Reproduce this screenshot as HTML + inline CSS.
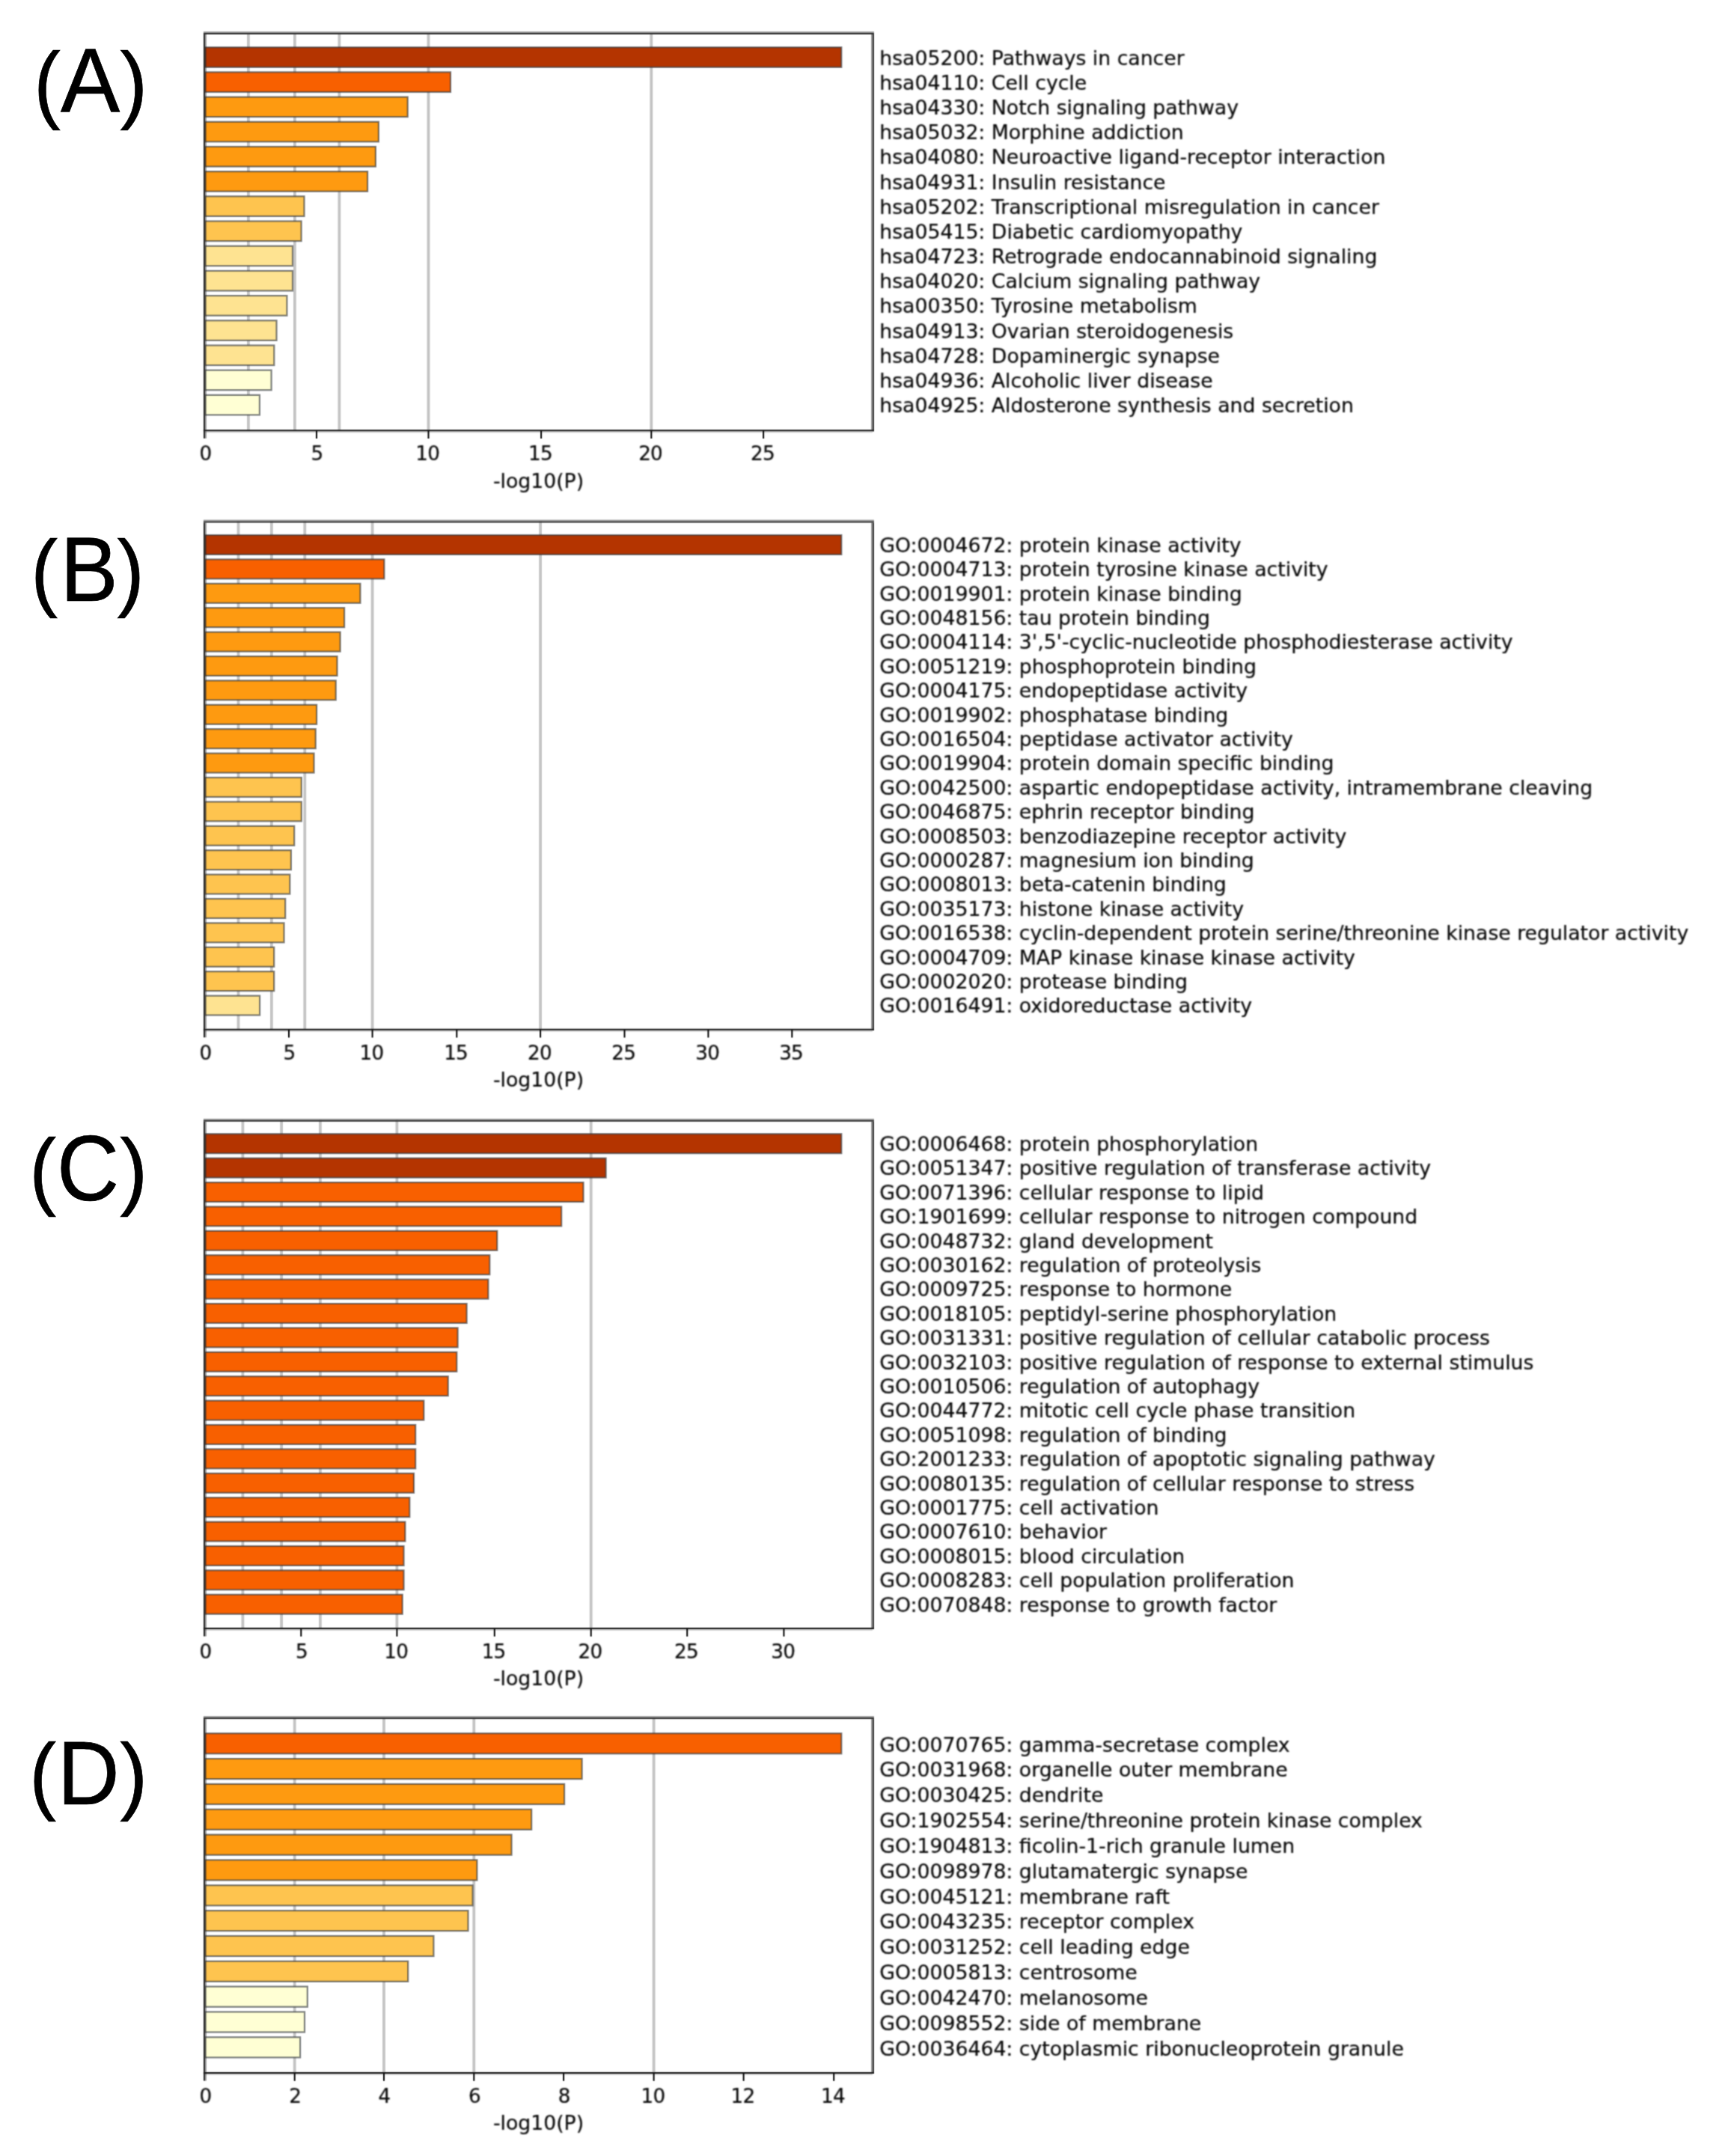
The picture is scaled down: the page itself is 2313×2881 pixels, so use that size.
<!DOCTYPE html>
<html lang="en">
<head>
<meta charset="utf-8">
<title>Enrichment bar charts</title>
<style>
html,body{margin:0;padding:0;background:#fff}
svg{display:block}
.lab,.tick,.xl{font-family:"DejaVu Sans","Liberation Sans",sans-serif;font-size:26.7px;fill:#080808;stroke:#080808;stroke-width:0.22}
.tick,.xl{text-anchor:middle}
.tick{font-size:26.2px;letter-spacing:-0.7px}
.pl{font-family:"Liberation Sans",Arial,sans-serif;font-size:117px;fill:#000;stroke:#000;stroke-width:0.7}
.bar{stroke:#30363c;stroke-width:2.3;stroke-opacity:0.6}
.grid{stroke:#c4c4c4;stroke-width:3.8}
.ax{stroke:#262626;stroke-width:2.6;fill:none}
.tk{stroke:#111;stroke-width:2.1}
</style>
</head>
<body>
<svg width="2313" height="2881" viewBox="0 0 2313 2881">
<defs>
<filter id="soft" x="0" y="0" width="2313" height="2881" filterUnits="userSpaceOnUse" color-interpolation-filters="sRGB"><feConvolveMatrix order="3" kernelMatrix="1 4 1 4 16 4 1 4 1" divisor="36" edgeMode="duplicate" preserveAlpha="true"/></filter>
<filter id="softer" x="0" y="0" width="2313" height="2881" filterUnits="userSpaceOnUse" color-interpolation-filters="sRGB"><feConvolveMatrix order="5" kernelMatrix="1 6 10 6 1 6 36 60 36 6 10 60 100 60 10 6 36 60 36 6 1 6 10 6 1" divisor="576" edgeMode="duplicate" preserveAlpha="false"/></filter>
</defs>
<g filter="url(#soft)">
<rect x="0" y="0" width="2313" height="2881" fill="#fff"/>
<g id="plotA">
<line class="grid" x1="331.9" y1="44.1" x2="331.9" y2="575.2"/>
<line class="grid" x1="393.9" y1="44.1" x2="393.9" y2="575.2"/>
<line class="grid" x1="453.4" y1="44.1" x2="453.4" y2="575.2"/>
<line class="grid" x1="572.5" y1="44.1" x2="572.5" y2="575.2"/>
<line class="grid" x1="870.3" y1="44.1" x2="870.3" y2="575.2"/>
<rect class="bar" x="273.9" y="63.22" width="850.4" height="26.55" fill="#b43400"/>
<rect class="bar" x="273.9" y="96.41" width="328.1" height="26.55" fill="#f86000"/>
<rect class="bar" x="273.9" y="129.6" width="270.8" height="26.55" fill="#fe9a10"/>
<rect class="bar" x="273.9" y="162.79" width="232" height="26.55" fill="#fe9a10"/>
<rect class="bar" x="273.9" y="195.98" width="228" height="26.55" fill="#fe9a10"/>
<rect class="bar" x="273.9" y="229.17" width="217.2" height="26.55" fill="#fe9a10"/>
<rect class="bar" x="273.9" y="262.36" width="132.6" height="26.55" fill="#fec44f"/>
<rect class="bar" x="273.9" y="295.55" width="128.7" height="26.55" fill="#fec44f"/>
<rect class="bar" x="273.9" y="328.74" width="117.1" height="26.55" fill="#fee391"/>
<rect class="bar" x="273.9" y="361.93" width="117.1" height="26.55" fill="#fee391"/>
<rect class="bar" x="273.9" y="395.12" width="109.5" height="26.55" fill="#fee391"/>
<rect class="bar" x="273.9" y="428.31" width="95.6" height="26.55" fill="#fee391"/>
<rect class="bar" x="273.9" y="461.5" width="92.4" height="26.55" fill="#fee391"/>
<rect class="bar" x="273.9" y="494.68" width="88.7" height="26.55" fill="#ffffd4"/>
<rect class="bar" x="273.9" y="527.87" width="73" height="26.55" fill="#ffffd4"/>
<rect x="271.9" y="42.1" width="896" height="1.9" fill="#2a2a2a" fill-opacity="0.48"/>
<rect x="271.9" y="44" width="896" height="2" fill="#303030"/>
<rect x="274" y="46" width="1.9" height="528.2" fill="#2a2a2a" fill-opacity="0.48"/>
<rect x="271.9" y="46" width="2.1" height="539.8" fill="#303030"/>
<rect x="274" y="576.3" width="1.9" height="9.5" fill="#2a2a2a" fill-opacity="0.48"/>
<rect x="1164" y="46" width="1.85" height="528.2" fill="#2a2a2a" fill-opacity="0.48"/>
<rect x="1165.85" y="46" width="2.05" height="530.3" fill="#303030"/>
<rect x="271.9" y="576.3" width="893.95" height="1.9" fill="#2a2a2a" fill-opacity="0.22"/>
<rect x="271.9" y="574.2" width="896" height="2.1" fill="#1e1e1e"/>
<line class="tk" x1="423" y1="575.2" x2="423" y2="586"/>
<line class="tk" x1="572.5" y1="575.2" x2="572.5" y2="586"/>
<line class="tk" x1="723.1" y1="575.2" x2="723.1" y2="586"/>
<line class="tk" x1="870.3" y1="575.2" x2="870.3" y2="586"/>
<line class="tk" x1="1020.1" y1="575.2" x2="1020.1" y2="586"/>
</g>
<g id="plotB">
<line class="grid" x1="318.5" y1="696.6" x2="318.5" y2="1375.7"/>
<line class="grid" x1="362.9" y1="696.6" x2="362.9" y2="1375.7"/>
<line class="grid" x1="407.3" y1="696.6" x2="407.3" y2="1375.7"/>
<line class="grid" x1="497.6" y1="696.6" x2="497.6" y2="1375.7"/>
<line class="grid" x1="722.1" y1="696.6" x2="722.1" y2="1375.7"/>
<rect class="bar" x="273.9" y="715.04" width="850.4" height="25.92" fill="#b43400"/>
<rect class="bar" x="273.9" y="747.44" width="239.5" height="25.92" fill="#f86000"/>
<rect class="bar" x="273.9" y="779.84" width="207.5" height="25.92" fill="#fe9a10"/>
<rect class="bar" x="273.9" y="812.23" width="186.2" height="25.92" fill="#fe9a10"/>
<rect class="bar" x="273.9" y="844.63" width="180.7" height="25.92" fill="#fe9a10"/>
<rect class="bar" x="273.9" y="877.03" width="176.6" height="25.92" fill="#fe9a10"/>
<rect class="bar" x="273.9" y="909.43" width="174.8" height="25.92" fill="#fe9a10"/>
<rect class="bar" x="273.9" y="941.82" width="149.2" height="25.92" fill="#fe9a10"/>
<rect class="bar" x="273.9" y="974.22" width="147.8" height="25.92" fill="#fe9a10"/>
<rect class="bar" x="273.9" y="1006.62" width="145.6" height="25.92" fill="#fe9a10"/>
<rect class="bar" x="273.9" y="1039.01" width="128.9" height="25.92" fill="#fec44f"/>
<rect class="bar" x="273.9" y="1071.41" width="128.9" height="25.92" fill="#fec44f"/>
<rect class="bar" x="273.9" y="1103.81" width="119.3" height="25.92" fill="#fec44f"/>
<rect class="bar" x="273.9" y="1136.21" width="115" height="25.92" fill="#fec44f"/>
<rect class="bar" x="273.9" y="1168.6" width="113.4" height="25.92" fill="#fec44f"/>
<rect class="bar" x="273.9" y="1201" width="107.3" height="25.92" fill="#fec44f"/>
<rect class="bar" x="273.9" y="1233.4" width="105.6" height="25.92" fill="#fec44f"/>
<rect class="bar" x="273.9" y="1265.8" width="92.3" height="25.92" fill="#fec44f"/>
<rect class="bar" x="273.9" y="1298.19" width="92.3" height="25.92" fill="#fec44f"/>
<rect class="bar" x="273.9" y="1330.59" width="73.2" height="25.92" fill="#fee391"/>
<rect x="271.9" y="694.6" width="896" height="1.9" fill="#2a2a2a" fill-opacity="0.48"/>
<rect x="271.9" y="696.5" width="896" height="2" fill="#303030"/>
<rect x="274" y="698.5" width="1.9" height="676.2" fill="#2a2a2a" fill-opacity="0.48"/>
<rect x="271.9" y="698.5" width="2.1" height="687.8" fill="#303030"/>
<rect x="274" y="1376.8" width="1.9" height="9.5" fill="#2a2a2a" fill-opacity="0.48"/>
<rect x="1164" y="698.5" width="1.85" height="676.2" fill="#2a2a2a" fill-opacity="0.48"/>
<rect x="1165.85" y="698.5" width="2.05" height="678.3" fill="#303030"/>
<rect x="271.9" y="1376.8" width="893.95" height="1.9" fill="#2a2a2a" fill-opacity="0.22"/>
<rect x="271.9" y="1374.7" width="896" height="2.1" fill="#1e1e1e"/>
<line class="tk" x1="386" y1="1375.7" x2="386" y2="1386.5"/>
<line class="tk" x1="497.6" y1="1375.7" x2="497.6" y2="1386.5"/>
<line class="tk" x1="610.3" y1="1375.7" x2="610.3" y2="1386.5"/>
<line class="tk" x1="722.1" y1="1375.7" x2="722.1" y2="1386.5"/>
<line class="tk" x1="834.5" y1="1375.7" x2="834.5" y2="1386.5"/>
<line class="tk" x1="946.4" y1="1375.7" x2="946.4" y2="1386.5"/>
<line class="tk" x1="1058.3" y1="1375.7" x2="1058.3" y2="1386.5"/>
</g>
<g id="plotC">
<line class="grid" x1="324.4" y1="1496.85" x2="324.4" y2="2175.95"/>
<line class="grid" x1="376.1" y1="1496.85" x2="376.1" y2="2175.95"/>
<line class="grid" x1="427.9" y1="1496.85" x2="427.9" y2="2175.95"/>
<line class="grid" x1="530.4" y1="1496.85" x2="530.4" y2="2175.95"/>
<line class="grid" x1="789.7" y1="1496.85" x2="789.7" y2="2175.95"/>
<rect class="bar" x="273.9" y="1515.24" width="850.4" height="25.92" fill="#b43400"/>
<rect class="bar" x="273.9" y="1547.64" width="535.7" height="25.92" fill="#b43400"/>
<rect class="bar" x="273.9" y="1580.04" width="505.6" height="25.92" fill="#f86000"/>
<rect class="bar" x="273.9" y="1612.43" width="476.3" height="25.92" fill="#f86000"/>
<rect class="bar" x="273.9" y="1644.83" width="390.4" height="25.92" fill="#f86000"/>
<rect class="bar" x="273.9" y="1677.23" width="380.4" height="25.92" fill="#f86000"/>
<rect class="bar" x="273.9" y="1709.63" width="378.5" height="25.92" fill="#f86000"/>
<rect class="bar" x="273.9" y="1742.02" width="349.7" height="25.92" fill="#f86000"/>
<rect class="bar" x="273.9" y="1774.42" width="337.7" height="25.92" fill="#f86000"/>
<rect class="bar" x="273.9" y="1806.82" width="336.4" height="25.92" fill="#f86000"/>
<rect class="bar" x="273.9" y="1839.21" width="324.8" height="25.92" fill="#f86000"/>
<rect class="bar" x="273.9" y="1871.61" width="292.4" height="25.92" fill="#f86000"/>
<rect class="bar" x="273.9" y="1904.01" width="281.3" height="25.92" fill="#f86000"/>
<rect class="bar" x="273.9" y="1936.41" width="281.3" height="25.92" fill="#f86000"/>
<rect class="bar" x="273.9" y="1968.8" width="279.1" height="25.92" fill="#f86000"/>
<rect class="bar" x="273.9" y="2001.2" width="273.4" height="25.92" fill="#f86000"/>
<rect class="bar" x="273.9" y="2033.6" width="267.5" height="25.92" fill="#f86000"/>
<rect class="bar" x="273.9" y="2066" width="265.6" height="25.92" fill="#f86000"/>
<rect class="bar" x="273.9" y="2098.39" width="265.6" height="25.92" fill="#f86000"/>
<rect class="bar" x="273.9" y="2130.79" width="263.8" height="25.92" fill="#f86000"/>
<rect x="271.9" y="1494.85" width="896" height="1.9" fill="#2a2a2a" fill-opacity="0.48"/>
<rect x="271.9" y="1496.75" width="896" height="2" fill="#303030"/>
<rect x="274" y="1498.75" width="1.9" height="676.2" fill="#2a2a2a" fill-opacity="0.48"/>
<rect x="271.9" y="1498.75" width="2.1" height="687.8" fill="#303030"/>
<rect x="274" y="2177.05" width="1.9" height="9.5" fill="#2a2a2a" fill-opacity="0.48"/>
<rect x="1164" y="1498.75" width="1.85" height="676.2" fill="#2a2a2a" fill-opacity="0.48"/>
<rect x="1165.85" y="1498.75" width="2.05" height="678.3" fill="#303030"/>
<rect x="271.9" y="2177.05" width="893.95" height="1.9" fill="#2a2a2a" fill-opacity="0.22"/>
<rect x="271.9" y="2174.95" width="896" height="2.1" fill="#1e1e1e"/>
<line class="tk" x1="402.3" y1="2175.95" x2="402.3" y2="2186.75"/>
<line class="tk" x1="530.4" y1="2175.95" x2="530.4" y2="2186.75"/>
<line class="tk" x1="660.8" y1="2175.95" x2="660.8" y2="2186.75"/>
<line class="tk" x1="789.7" y1="2175.95" x2="789.7" y2="2186.75"/>
<line class="tk" x1="918.2" y1="2175.95" x2="918.2" y2="2186.75"/>
<line class="tk" x1="1047.4" y1="2175.95" x2="1047.4" y2="2186.75"/>
</g>
<g id="plotD">
<line class="grid" x1="393.7" y1="2295.2" x2="393.7" y2="2769.9"/>
<line class="grid" x1="513" y1="2295.2" x2="513" y2="2769.9"/>
<line class="grid" x1="633.3" y1="2295.2" x2="633.3" y2="2769.9"/>
<line class="grid" x1="873.6" y1="2295.2" x2="873.6" y2="2769.9"/>
<rect class="bar" x="273.9" y="2316.27" width="850.4" height="27.07" fill="#f86000"/>
<rect class="bar" x="273.9" y="2350.1" width="503.7" height="27.07" fill="#fe9a10"/>
<rect class="bar" x="273.9" y="2383.93" width="480.2" height="27.07" fill="#fe9a10"/>
<rect class="bar" x="273.9" y="2417.77" width="436.3" height="27.07" fill="#fe9a10"/>
<rect class="bar" x="273.9" y="2451.6" width="409.6" height="27.07" fill="#fe9a10"/>
<rect class="bar" x="273.9" y="2485.43" width="363.5" height="27.07" fill="#fe9a10"/>
<rect class="bar" x="273.9" y="2519.27" width="357.7" height="27.07" fill="#fec44f"/>
<rect class="bar" x="273.9" y="2553.1" width="351.6" height="27.07" fill="#fec44f"/>
<rect class="bar" x="273.9" y="2586.93" width="305.5" height="27.07" fill="#fec44f"/>
<rect class="bar" x="273.9" y="2620.77" width="271.3" height="27.07" fill="#fec44f"/>
<rect class="bar" x="273.9" y="2654.6" width="136.9" height="27.07" fill="#ffffd4"/>
<rect class="bar" x="273.9" y="2688.43" width="133.1" height="27.07" fill="#ffffd4"/>
<rect class="bar" x="273.9" y="2722.27" width="127.2" height="27.07" fill="#ffffd4"/>
<rect x="271.9" y="2293.2" width="896" height="1.9" fill="#2a2a2a" fill-opacity="0.48"/>
<rect x="271.9" y="2295.1" width="896" height="2" fill="#303030"/>
<rect x="274" y="2297.1" width="1.9" height="471.8" fill="#2a2a2a" fill-opacity="0.48"/>
<rect x="271.9" y="2297.1" width="2.1" height="483.4" fill="#303030"/>
<rect x="274" y="2771" width="1.9" height="9.5" fill="#2a2a2a" fill-opacity="0.48"/>
<rect x="1164" y="2297.1" width="1.85" height="471.8" fill="#2a2a2a" fill-opacity="0.48"/>
<rect x="1165.85" y="2297.1" width="2.05" height="473.9" fill="#303030"/>
<rect x="271.9" y="2771" width="893.95" height="1.9" fill="#2a2a2a" fill-opacity="0.22"/>
<rect x="271.9" y="2768.9" width="896" height="2.1" fill="#1e1e1e"/>
<line class="tk" x1="393.7" y1="2769.9" x2="393.7" y2="2780.7"/>
<line class="tk" x1="513" y1="2769.9" x2="513" y2="2780.7"/>
<line class="tk" x1="633.3" y1="2769.9" x2="633.3" y2="2780.7"/>
<line class="tk" x1="753.1" y1="2769.9" x2="753.1" y2="2780.7"/>
<line class="tk" x1="873.6" y1="2769.9" x2="873.6" y2="2780.7"/>
<line class="tk" x1="993.6" y1="2769.9" x2="993.6" y2="2780.7"/>
<line class="tk" x1="1114.2" y1="2769.9" x2="1114.2" y2="2780.7"/>
</g>
</g>
<g filter="url(#softer)">
<g id="textA">
<text class="tick" x="274.5" y="615.1">0</text>
<text class="tick" x="423.6" y="615.1">5</text>
<text class="tick" x="571.3" y="615.1">10</text>
<text class="tick" x="721.9" y="615.1">15</text>
<text class="tick" x="869.1" y="615.1">20</text>
<text class="tick" x="1018.9" y="615.1">25</text>
<text class="xl" x="719.55" y="651.5">-log10(P)</text>
<text class="lab" x="1175.3" y="86.6">hsa05200: Pathways in cancer</text>
<text class="lab" x="1175.3" y="119.79">hsa04110: Cell cycle</text>
<text class="lab" x="1175.3" y="152.98">hsa04330: Notch signaling pathway</text>
<text class="lab" x="1175.3" y="186.17">hsa05032: Morphine addiction</text>
<text class="lab" x="1175.3" y="219.36">hsa04080: Neuroactive ligand-receptor interaction</text>
<text class="lab" x="1175.3" y="252.55">hsa04931: Insulin resistance</text>
<text class="lab" x="1175.3" y="285.74">hsa05202: Transcriptional misregulation in cancer</text>
<text class="lab" x="1175.3" y="318.92">hsa05415: Diabetic cardiomyopathy</text>
<text class="lab" x="1175.3" y="352.11">hsa04723: Retrograde endocannabinoid signaling</text>
<text class="lab" x="1175.3" y="385.3">hsa04020: Calcium signaling pathway</text>
<text class="lab" x="1175.3" y="418.49">hsa00350: Tyrosine metabolism</text>
<text class="lab" x="1175.3" y="451.68">hsa04913: Ovarian steroidogenesis</text>
<text class="lab" x="1175.3" y="484.87">hsa04728: Dopaminergic synapse</text>
<text class="lab" x="1175.3" y="518.06">hsa04936: Alcoholic liver disease</text>
<text class="lab" x="1175.3" y="551.25">hsa04925: Aldosterone synthesis and secretion</text>
</g>
<g id="textB">
<text class="tick" x="274.5" y="1415.6">0</text>
<text class="tick" x="386.6" y="1415.6">5</text>
<text class="tick" x="496.4" y="1415.6">10</text>
<text class="tick" x="609.1" y="1415.6">15</text>
<text class="tick" x="720.9" y="1415.6">20</text>
<text class="tick" x="833.3" y="1415.6">25</text>
<text class="tick" x="945.2" y="1415.6">30</text>
<text class="tick" x="1057.1" y="1415.6">35</text>
<text class="xl" x="719.55" y="1452">-log10(P)</text>
<text class="lab" x="1175.3" y="737.8">GO:0004672: protein kinase activity</text>
<text class="lab" x="1175.3" y="770.2">GO:0004713: protein tyrosine kinase activity</text>
<text class="lab" x="1175.3" y="802.59">GO:0019901: protein kinase binding</text>
<text class="lab" x="1175.3" y="834.99">GO:0048156: tau protein binding</text>
<text class="lab" x="1175.3" y="867.39">GO:0004114: 3',5'-cyclic-nucleotide phosphodiesterase activity</text>
<text class="lab" x="1175.3" y="899.79">GO:0051219: phosphoprotein binding</text>
<text class="lab" x="1175.3" y="932.18">GO:0004175: endopeptidase activity</text>
<text class="lab" x="1175.3" y="964.58">GO:0019902: phosphatase binding</text>
<text class="lab" x="1175.3" y="996.98">GO:0016504: peptidase activator activity</text>
<text class="lab" x="1175.3" y="1029.38">GO:0019904: protein domain specific binding</text>
<text class="lab" x="1175.3" y="1061.77">GO:0042500: aspartic endopeptidase activity, intramembrane cleaving</text>
<text class="lab" x="1175.3" y="1094.17">GO:0046875: ephrin receptor binding</text>
<text class="lab" x="1175.3" y="1126.57">GO:0008503: benzodiazepine receptor activity</text>
<text class="lab" x="1175.3" y="1158.97">GO:0000287: magnesium ion binding</text>
<text class="lab" x="1175.3" y="1191.36">GO:0008013: beta-catenin binding</text>
<text class="lab" x="1175.3" y="1223.76">GO:0035173: histone kinase activity</text>
<text class="lab" x="1175.3" y="1256.16">GO:0016538: cyclin-dependent protein serine/threonine kinase regulator activity</text>
<text class="lab" x="1175.3" y="1288.56">GO:0004709: MAP kinase kinase kinase activity</text>
<text class="lab" x="1175.3" y="1320.95">GO:0002020: protease binding</text>
<text class="lab" x="1175.3" y="1353.35">GO:0016491: oxidoreductase activity</text>
</g>
<g id="textC">
<text class="tick" x="274.5" y="2215.85">0</text>
<text class="tick" x="402.9" y="2215.85">5</text>
<text class="tick" x="529.2" y="2215.85">10</text>
<text class="tick" x="659.6" y="2215.85">15</text>
<text class="tick" x="788.5" y="2215.85">20</text>
<text class="tick" x="917" y="2215.85">25</text>
<text class="tick" x="1046.2" y="2215.85">30</text>
<text class="xl" x="719.55" y="2252.25">-log10(P)</text>
<text class="lab" x="1175.3" y="1538">GO:0006468: protein phosphorylation</text>
<text class="lab" x="1175.3" y="1570.4">GO:0051347: positive regulation of transferase activity</text>
<text class="lab" x="1175.3" y="1602.79">GO:0071396: cellular response to lipid</text>
<text class="lab" x="1175.3" y="1635.19">GO:1901699: cellular response to nitrogen compound</text>
<text class="lab" x="1175.3" y="1667.59">GO:0048732: gland development</text>
<text class="lab" x="1175.3" y="1699.99">GO:0030162: regulation of proteolysis</text>
<text class="lab" x="1175.3" y="1732.38">GO:0009725: response to hormone</text>
<text class="lab" x="1175.3" y="1764.78">GO:0018105: peptidyl-serine phosphorylation</text>
<text class="lab" x="1175.3" y="1797.18">GO:0031331: positive regulation of cellular catabolic process</text>
<text class="lab" x="1175.3" y="1829.58">GO:0032103: positive regulation of response to external stimulus</text>
<text class="lab" x="1175.3" y="1861.97">GO:0010506: regulation of autophagy</text>
<text class="lab" x="1175.3" y="1894.37">GO:0044772: mitotic cell cycle phase transition</text>
<text class="lab" x="1175.3" y="1926.77">GO:0051098: regulation of binding</text>
<text class="lab" x="1175.3" y="1959.17">GO:2001233: regulation of apoptotic signaling pathway</text>
<text class="lab" x="1175.3" y="1991.56">GO:0080135: regulation of cellular response to stress</text>
<text class="lab" x="1175.3" y="2023.96">GO:0001775: cell activation</text>
<text class="lab" x="1175.3" y="2056.36">GO:0007610: behavior</text>
<text class="lab" x="1175.3" y="2088.76">GO:0008015: blood circulation</text>
<text class="lab" x="1175.3" y="2121.15">GO:0008283: cell population proliferation</text>
<text class="lab" x="1175.3" y="2153.55">GO:0070848: response to growth factor</text>
</g>
<g id="textD">
<text class="tick" x="274.5" y="2809.8">0</text>
<text class="tick" x="394.3" y="2809.8">2</text>
<text class="tick" x="513.6" y="2809.8">4</text>
<text class="tick" x="633.9" y="2809.8">6</text>
<text class="tick" x="753.7" y="2809.8">8</text>
<text class="tick" x="872.4" y="2809.8">10</text>
<text class="tick" x="992.4" y="2809.8">12</text>
<text class="tick" x="1113" y="2809.8">14</text>
<text class="xl" x="719.55" y="2846.2">-log10(P)</text>
<text class="lab" x="1175.3" y="2340.6">GO:0070765: gamma-secretase complex</text>
<text class="lab" x="1175.3" y="2374.43">GO:0031968: organelle outer membrane</text>
<text class="lab" x="1175.3" y="2408.27">GO:0030425: dendrite</text>
<text class="lab" x="1175.3" y="2442.1">GO:1902554: serine/threonine protein kinase complex</text>
<text class="lab" x="1175.3" y="2475.93">GO:1904813: ficolin-1-rich granule lumen</text>
<text class="lab" x="1175.3" y="2509.77">GO:0098978: glutamatergic synapse</text>
<text class="lab" x="1175.3" y="2543.6">GO:0045121: membrane raft</text>
<text class="lab" x="1175.3" y="2577.43">GO:0043235: receptor complex</text>
<text class="lab" x="1175.3" y="2611.27">GO:0031252: cell leading edge</text>
<text class="lab" x="1175.3" y="2645.1">GO:0005813: centrosome</text>
<text class="lab" x="1175.3" y="2678.93">GO:0042470: melanosome</text>
<text class="lab" x="1175.3" y="2712.77">GO:0098552: side of membrane</text>
<text class="lab" x="1175.3" y="2746.6">GO:0036464: cytoplasmic ribonucleoprotein granule</text>
</g>
</g>
<g id="panel-letters">
<text class="pl" transform="translate(45.19 149.9) scale(0.9128 0.9891)">(</text>
<text class="pl" transform="translate(81.11 149.9) scale(1.0153 1.0431)">A</text>
<text class="pl" transform="translate(160.6 149.9) scale(0.9402 0.9891)">)</text>
<text class="pl" transform="translate(41.25 802) scale(0.9192 0.9891)">(</text>
<text class="pl" transform="translate(80.43 802.7) scale(0.9905 1.0430)">B</text>
<text class="pl" transform="translate(156.61 802) scale(0.9336 0.9891)">)</text>
<text class="pl" transform="translate(39.15 1602.47) scale(0.9192 0.9863)">(</text>
<text class="pl" transform="translate(75.95 1603.56) scale(0.9836 1.0606)">C</text>
<text class="pl" transform="translate(160.29 1602.47) scale(0.9500 0.9863)">)</text>
<text class="pl" transform="translate(39.15 2410.43) scale(0.9192 0.9836)">(</text>
<text class="pl" transform="translate(76.72 2410.7) scale(0.9811 1.0356)">D</text>
<text class="pl" transform="translate(160.29 2410.43) scale(0.9500 0.9836)">)</text>
</g>
</svg>
</body>
</html>
